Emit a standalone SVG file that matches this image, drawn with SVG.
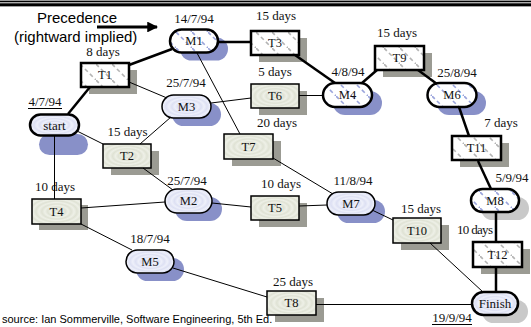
<svg xmlns="http://www.w3.org/2000/svg" width="531" height="327" viewBox="0 0 531 327">
<style>
.lbl{font-family:"Liberation Serif","Times New Roman",serif;font-size:13px;fill:#111;text-anchor:middle}
.nl{font-family:"Liberation Serif","Times New Roman",serif;font-size:12.5px;fill:#111;text-anchor:middle}
.sans{font-family:"Liberation Sans",Arial,sans-serif;fill:#000}
.crit{stroke:#000;stroke-width:2.5}
.norm{stroke:#000;stroke-width:1.5}
.tshadow{fill:#9b9b93}
.mshadow{fill:#8890c8}
.gshadow{fill:#c9c9c9}
.thick{stroke:#000;stroke-width:2.5;fill:none}
.thin{stroke:#000;stroke-width:1;fill:none}
</style>
<defs>
<pattern id="hatchG" patternUnits="userSpaceOnUse" width="16" height="16">
<rect width="16" height="16" fill="#fff"/>
<path d="M0 0L16 16" stroke="#b4b4b4" stroke-width="1.6" stroke-dasharray="4 3"/>
</pattern>
<pattern id="hatchB" patternUnits="userSpaceOnUse" width="16" height="16">
<rect width="16" height="16" fill="#fff"/>
<path d="M0 0L16 16" stroke="#9aa4dc" stroke-width="1.6" stroke-dasharray="4 3"/>
</pattern>
<radialGradient id="ringG" cx="0.5" cy="0.5" r="0.12" spreadMethod="repeat">
<stop offset="0" stop-color="#eef0e7"/>
<stop offset="0.5" stop-color="#dfe2d4"/>
<stop offset="1" stop-color="#eef0e7"/>
</radialGradient>
<radialGradient id="ringB" cx="0.5" cy="0.5" r="0.12" spreadMethod="repeat">
<stop offset="0" stop-color="#eef0fa"/>
<stop offset="0.5" stop-color="#dde0f3"/>
<stop offset="1" stop-color="#eef0fa"/>
</radialGradient>
<marker id="arr" viewBox="0 0 10 10" refX="9" refY="5" markerWidth="3.6" markerHeight="3.6" orient="auto" markerUnits="strokeWidth">
<path d="M0 0L10 5L0 10z" fill="#000"/>
</marker>
</defs>
<rect width="531" height="327" fill="#fff"/>
<g id="topband">
<rect x="0" y="0" width="531" height="1" fill="#999"/>
<rect x="0" y="1" width="531" height="1.3" fill="#000"/>
<rect x="0" y="2.3" width="531" height="1" fill="#aaa"/>
<rect x="0" y="3.3" width="531" height="2.8" fill="#000"/>
<rect x="0" y="6.1" width="531" height="0.9" fill="#999"/>
</g>
<g id="legend">
<text class="sans" x="37" y="23" font-size="15">Precedence</text>
<text class="sans" x="14" y="41.5" font-size="15">(rightward implied)</text>
<line x1="97" y1="27" x2="157" y2="27" stroke="#000" stroke-width="3" marker-end="url(#arr)"/>
</g>
<g id="start">
<rect class="mshadow" x="39" y="134" width="49" height="21" rx="10.5"/>
<rect class="crit" x="30" y="114.5" width="49" height="21" rx="10.5" fill="url(#ringB)"/>
<text class="lbl" x="54.5" y="129.5">start</text>
<text class="lbl" x="45" y="106">4/7/94</text>
<line x1="28" y1="108.5" x2="62" y2="108.5" stroke="#000" stroke-width="1"/>
</g>
<g id="T1">
<rect class="tshadow" x="89" y="70" width="48" height="24"/>
<rect class="crit" x="81" y="63" width="48" height="24" fill="url(#hatchG)"/>
<text class="nl" x="105" y="79">T1</text>
<text class="lbl" x="103" y="55.5">8 days</text>
</g>
<g id="M1">
<rect class="mshadow" x="180" y="37.5" width="48" height="23" rx="11.5"/>
<rect class="crit" x="170" y="29.5" width="48" height="23" rx="11.5" fill="url(#hatchB)"/>
<text class="nl" x="194" y="45">M1</text>
<text class="lbl" x="194" y="23">14/7/94</text>
</g>
<g id="T3">
<rect class="tshadow" x="259" y="38" width="48" height="24"/>
<rect class="crit" x="251" y="31" width="48" height="24" fill="url(#hatchG)"/>
<text class="nl" x="275" y="47">T3</text>
<text class="lbl" x="276" y="20">15 days</text>
</g>
<g id="M3">
<rect class="mshadow" x="172" y="103" width="49" height="23" rx="11.5"/>
<rect class="norm" x="162" y="95" width="49" height="23" rx="11.5" fill="url(#ringB)"/>
<text class="nl" x="186.5" y="110.5">M3</text>
<text class="lbl" x="186" y="87">25/7/94</text>
</g>
<g id="T6">
<rect class="tshadow" x="259" y="91" width="48" height="24"/>
<rect class="norm" x="251" y="84" width="48" height="24" fill="url(#ringG)"/>
<text class="nl" x="275" y="100">T6</text>
<text class="lbl" x="275" y="76">5 days</text>
</g>
<g id="M4">
<rect class="mshadow" x="333" y="91" width="49" height="24" rx="12"/>
<rect class="crit" x="323" y="83" width="49" height="24" rx="12" fill="url(#hatchB)"/>
<text class="nl" x="347.5" y="99">M4</text>
<text class="lbl" x="348" y="76">4/8/94</text>
</g>
<g id="T9">
<rect class="tshadow" x="383" y="53" width="49" height="24"/>
<rect class="crit" x="375" y="46" width="49" height="24" fill="url(#hatchG)"/>
<text class="nl" x="399.5" y="62">T9</text>
<text class="lbl" x="397" y="37">15 days</text>
</g>
<g id="M6">
<rect class="mshadow" x="437" y="91" width="49" height="24" rx="12"/>
<rect class="crit" x="427.5" y="83" width="49" height="24" rx="12" fill="url(#hatchB)"/>
<text class="nl" x="452" y="99">M6</text>
<text class="lbl" x="457" y="77">25/8/94</text>
</g>
<g id="T11">
<rect class="tshadow" x="460" y="143" width="49" height="24"/>
<rect class="crit" x="452" y="136" width="49" height="24" fill="url(#hatchG)"/>
<text class="nl" x="476.5" y="152">T11</text>
<text class="lbl" x="501" y="127">7 days</text>
</g>
<g id="T2">
<rect class="tshadow" x="111" y="151" width="48" height="24"/>
<rect class="norm" x="103" y="144" width="48" height="24" fill="url(#ringG)"/>
<text class="nl" x="127" y="160">T2</text>
<text class="lbl" x="127.5" y="136">15 days</text>
</g>
<g id="T7">
<rect class="tshadow" x="232" y="141" width="49" height="25"/>
<rect class="norm" x="224" y="134" width="49" height="25" fill="url(#ringG)"/>
<text class="nl" x="248.5" y="150.5">T7</text>
<text class="lbl" x="277" y="127">20 days</text>
</g>
<g id="T4">
<rect class="tshadow" x="39" y="205" width="49" height="25"/>
<rect class="norm" x="32" y="199" width="49" height="25" fill="url(#ringG)"/>
<text class="nl" x="56.5" y="215.5">T4</text>
<text class="lbl" x="55" y="191">10 days</text>
</g>
<g id="M2">
<rect class="mshadow" x="175" y="197" width="47" height="24" rx="12"/>
<rect class="norm" x="165" y="189" width="47" height="24" rx="12" fill="url(#ringB)"/>
<text class="nl" x="188.5" y="205">M2</text>
<text class="lbl" x="187" y="185">25/7/94</text>
</g>
<g id="T5">
<rect class="tshadow" x="259" y="203" width="48" height="24"/>
<rect class="norm" x="251" y="196" width="48" height="24" fill="url(#ringG)"/>
<text class="nl" x="275" y="212">T5</text>
<text class="lbl" x="281" y="188">10 days</text>
</g>
<g id="M7">
<rect class="mshadow" x="337" y="200" width="48" height="23" rx="11.5"/>
<rect class="norm" x="327" y="192" width="48" height="23" rx="11.5" fill="url(#ringB)"/>
<text class="nl" x="351" y="207.5">M7</text>
<text class="lbl" x="353" y="185">11/8/94</text>
</g>
<g id="T10">
<rect class="tshadow" x="401" y="225" width="48" height="25"/>
<rect class="norm" x="393" y="218" width="48" height="25" fill="url(#ringG)"/>
<text class="nl" x="417" y="234.5">T10</text>
<text class="lbl" x="421" y="213">15 days</text>
</g>
<g id="M8">
<rect class="gshadow" x="481" y="197" width="48" height="23" rx="11.5"/>
<rect class="crit" x="471" y="189" width="48" height="23" rx="11.5" fill="url(#hatchB)"/>
<text class="nl" x="495" y="204.5">M8</text>
<text class="lbl" x="512" y="182">5/9/94</text>
</g>
<g id="T12">
<rect class="tshadow" x="481" y="249" width="49" height="25"/>
<rect class="crit" x="473" y="242" width="49" height="25" fill="url(#hatchG)"/>
<text class="nl" x="497.5" y="258.5">T12</text>
<text class="lbl" x="475" y="234" textLength="36">10 days</text>
</g>
<g id="M5">
<rect class="mshadow" x="136" y="258" width="48" height="23" rx="11.5"/>
<rect class="norm" x="126" y="250" width="48" height="23" rx="11.5" fill="url(#ringB)"/>
<text class="nl" x="150" y="265.5">M5</text>
<text class="lbl" x="150" y="243">18/7/94</text>
</g>
<g id="T8">
<rect class="tshadow" x="275" y="298" width="49" height="24"/>
<rect class="norm" x="267" y="291" width="49" height="24" fill="url(#ringG)"/>
<text class="nl" x="291.5" y="307">T8</text>
<text class="lbl" x="293" y="286">25 days</text>
</g>
<g id="Finish">
<rect class="gshadow" x="482" y="300" width="46" height="23" rx="11.5"/>
<rect class="crit" x="472" y="292" width="46" height="23" rx="11.5" fill="url(#ringB)"/>
<text class="lbl" x="495" y="307.5">Finish</text>
<text class="lbl" x="452" y="322">19/9/94</text>
<line x1="432" y1="324.5" x2="472" y2="324.5" stroke="#000" stroke-width="1"/>
</g>
<g id="connectors">
<line class="thick" x1="68" y1="114" x2="90" y2="87"/>
<line class="thick" x1="129" y1="65" x2="172" y2="49"/>
<line class="thick" x1="218" y1="42" x2="251" y2="42"/>
<line class="thick" x1="295" y1="55" x2="335" y2="83"/>
<line class="thick" x1="362" y1="83" x2="377" y2="70"/>
<line class="thick" x1="418" y1="70" x2="437" y2="84"/>
<line class="thick" x1="459" y1="107" x2="469" y2="136"/>
<line class="thick" x1="478" y1="161" x2="491" y2="189"/>
<line class="thick" x1="496" y1="212" x2="496" y2="242"/>
<line class="thick" x1="496" y1="267" x2="496" y2="292"/>
<line class="thin" x1="77" y1="131" x2="103" y2="144"/>
<line class="thin" x1="54.5" y1="136" x2="54.5" y2="199"/>
<line class="thin" x1="129" y1="82" x2="167" y2="98"/>
<line class="thin" x1="140" y1="144" x2="171" y2="117"/>
<line class="thin" x1="143" y1="168" x2="173" y2="190"/>
<line class="thin" x1="211" y1="103" x2="251" y2="98"/>
<line class="thin" x1="299" y1="95.5" x2="323" y2="95.5"/>
<line class="thin" x1="197" y1="53" x2="240" y2="134"/>
<line class="thin" x1="273" y1="158" x2="333" y2="194"/>
<line class="thin" x1="81" y1="208" x2="165" y2="202"/>
<line class="thin" x1="212" y1="203" x2="251" y2="207"/>
<line class="thin" x1="299" y1="206" x2="327" y2="205"/>
<line class="thin" x1="372" y1="210" x2="393" y2="220"/>
<line class="thin" x1="430" y1="243" x2="483" y2="292"/>
<line class="thin" x1="81" y1="224" x2="132" y2="250"/>
<line class="thin" x1="173" y1="268" x2="267" y2="297"/>
<line class="thin" x1="316" y1="304.5" x2="472" y2="304.5"/>
</g>
<text class="sans" x="2" y="323" font-size="11">source: Ian Sommerville, Software Engineering, 5th Ed.</text>
</svg>
